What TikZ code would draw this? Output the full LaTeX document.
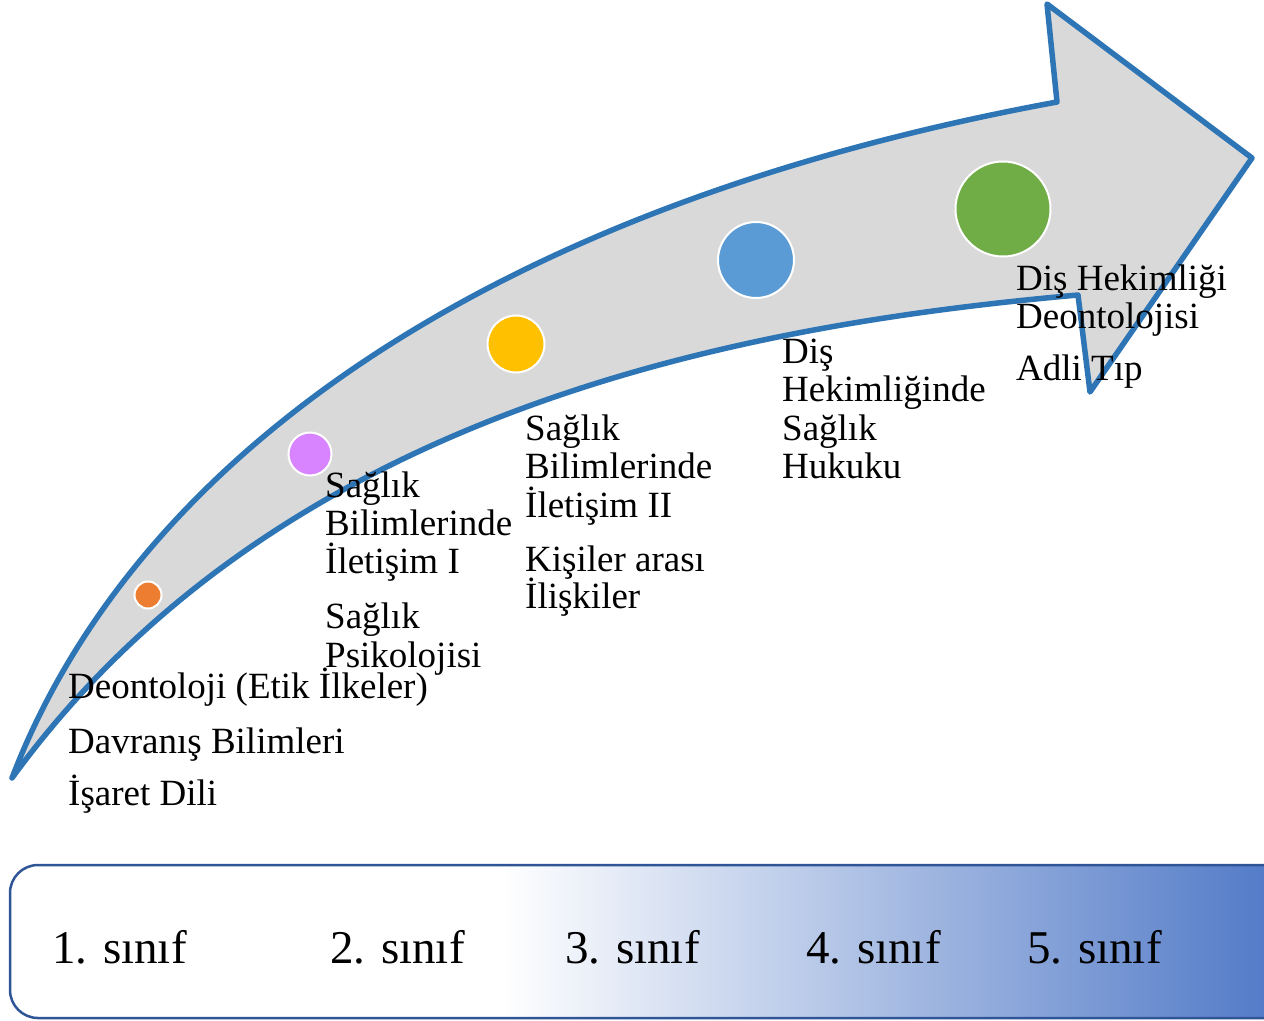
\documentclass[tikz,border=0pt]{standalone}
\usepackage{fontspec}
\setmainfont{Liberation Serif}
\definecolor{arrfill}{RGB}{217,217,217}
\definecolor{arrline}{RGB}{46,117,182}
\definecolor{cOrange}{RGB}{237,125,49}
\definecolor{cPurple}{RGB}{216,131,255}
\definecolor{cYellow}{RGB}{255,192,0}
\definecolor{cBlue}{RGB}{91,155,213}
\definecolor{cGreen}{RGB}{112,173,71}
\definecolor{boxline}{RGB}{47,85,151}
\definecolor{boxblue}{RGB}{84,124,200}
\tikzset{
  arrowshape/.style={fill=arrfill, draw=arrline, line width=5.5bp, line join=round},
  dot/.style={circle, draw=white, line width=2bp, inner sep=0pt},
  item/.style={anchor=base west, inner sep=0pt, font=\fontsize{37bp}{39bp}\selectfont},
  year/.style={anchor=base west, inner sep=0pt, font=\fontsize{47bp}{50bp}\selectfont},
}
\begin{document}
\begin{tikzpicture}[x=1bp,y=-1bp]
\useasboundingbox (0,0) rectangle (1264,1021);
\clip (0,0) rectangle (1264,1021);
% arrow
\draw[arrowshape] (12,778) .. controls (130,470) and (470,210) .. (1057,102)
  -- (1047,4) -- (1252,158) -- (1090,392) -- (1078,295)
  .. controls (740,325) and (280,410) .. (12,778) -- cycle;
% circles
\node[dot, fill=cOrange, minimum size=27bp] (c1) at (148,595) {};
\node[dot, fill=cPurple, minimum size=43bp] (c2) at (310,454) {};
\node[dot, fill=cYellow, minimum size=57bp] (c3) at (516,344) {};
\node[dot, fill=cBlue, minimum size=76bp] (c4) at (756,260) {};
\node[dot, fill=cGreen, minimum size=95bp] (c5) at (1003,209) {};
% group 1
\node[item] (g1a) at (68,698) {Deontoloji (Etik İlkeler)};
\node[item] (g1b) at (68,753) {Davranış Bilimleri};
\node[item] (g1c) at (68,805) {İşaret Dili};
% group 2
\node[item] (g2a) at (325,497) {Sağlık};
\node[item] (g2b) at (325,535) {Bilimlerinde};
\node[item] (g2c) at (325,573) {İletişim I};
\node[item] (g2d) at (325,628) {Sağlık};
\node[item] (g2e) at (325,667) {Psikolojisi};
% group 3
\node[item] (g3a) at (525,440) {Sağlık};
\node[item] (g3b) at (525,478) {Bilimlerinde};
\node[item] (g3c) at (525,517) {İletişim II};
\node[item] (g3d) at (525,571) {Kişiler arası};
\node[item] (g3e) at (525,608) {İlişkiler};
% group 4
\node[item] (g4a) at (782,363) {Diş};
\node[item] (g4b) at (782,401) {Hekimliğinde};
\node[item] (g4c) at (782,440) {Sağlık};
\node[item] (g4d) at (782,478) {Hukuku};
% group 5
\node[item] (g5a) at (1016,290) {Diş Hekimliği};
\node[item] (g5b) at (1016,328) {Deontolojisi};
\node[item] (g5c) at (1016,380) {Adli Tıp};
% bottom box
\begin{scope}
  \clip[rounded corners=28bp] (10,865) rectangle (1300,1018);
  \fill[white] (10,865) rectangle (1300,1018);
  \shade[left color=white, right color=boxblue] (500,860) rectangle (1264,1022);
\end{scope}
\draw[boxline, line width=2.5bp, rounded corners=28bp] (1300,865) -- (10,865) -- (10,1018) -- (1300,1018);
\node[year] (y1) at (52,963) {1. sınıf};
\node[year] (y2) at (330,963) {2. sınıf};
\node[year] (y3) at (565,963) {3. sınıf};
\node[year] (y4) at (806,963) {4. sınıf};
\node[year] (y5) at (1027,963) {5. sınıf};
\end{tikzpicture}
\end{document}
